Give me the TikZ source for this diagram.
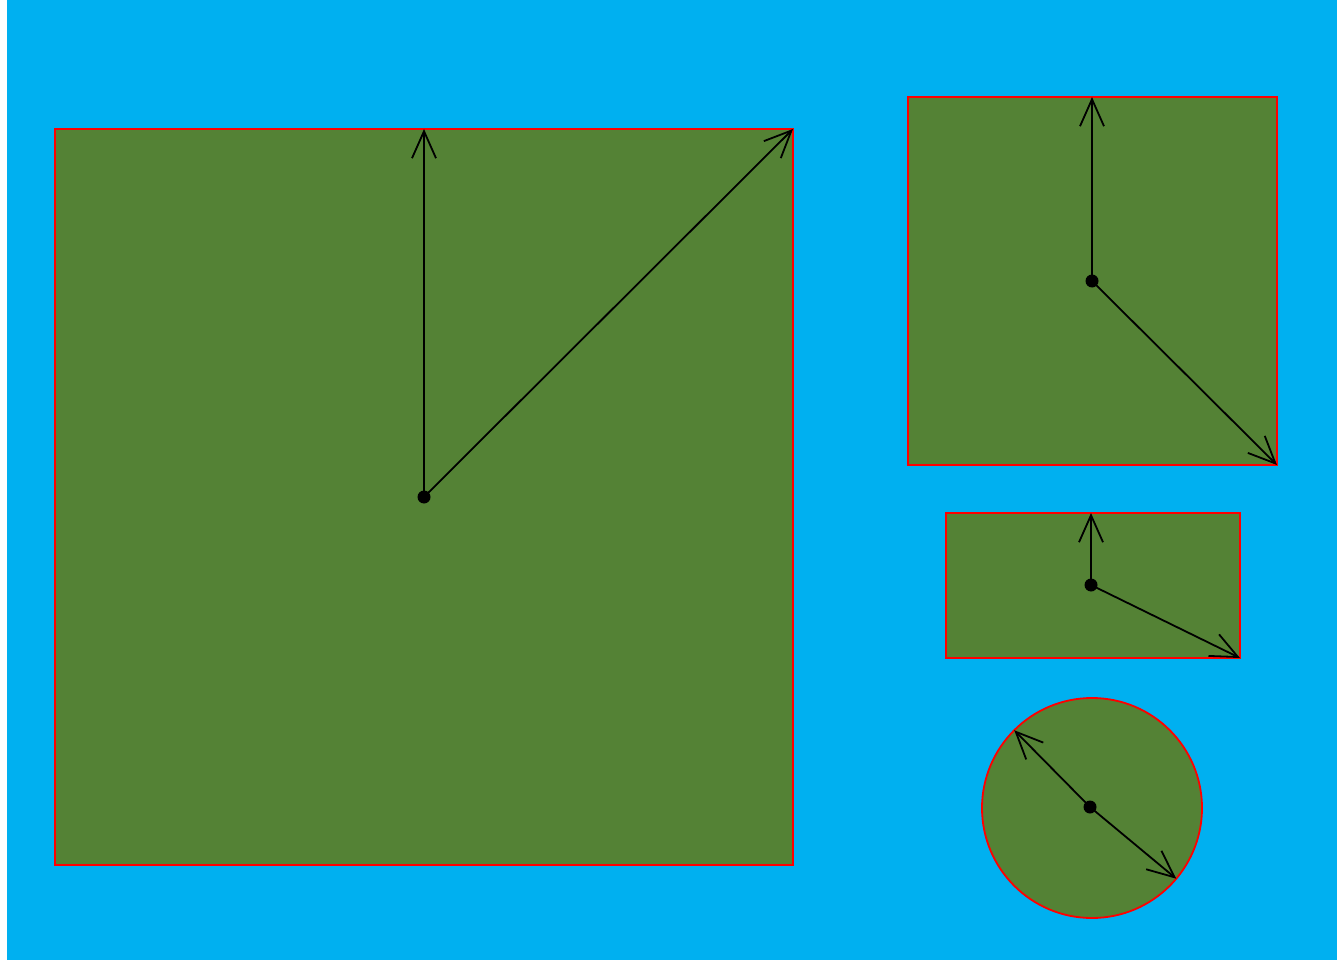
\documentclass[tikz,border=0pt]{standalone}
\usetikzlibrary{arrows.meta,calc}
\definecolor{bg}{HTML}{00B0F0}
\definecolor{fld}{HTML}{548235}
\definecolor{edge}{HTML}{FF0000}
\begin{document}
\begin{tikzpicture}[x=1pt,y=-1pt,
  box/.style={draw=edge,fill=fld,line width=1.8pt,inner sep=0pt,outer sep=0pt,rectangle},
  ring/.style={draw=edge,fill=fld,line width=1.8pt,inner sep=0pt,outer sep=0pt,circle,minimum size=220pt},
  arr/.style={line width=1.8pt,-{Straight Barb[length=27pt,width=24pt,line width=1.8pt]}},
  pin/.style={circle,fill=black,inner sep=0pt,minimum size=13pt}]
\useasboundingbox (0,0) rectangle (1344,960);
\fill[bg] (7,0) rectangle (1337,960);
% large square
\node[box,minimum width=738pt,minimum height=736pt] (A) at (424,497) {};
\coordinate (a) at (424,497);
\draw[arr] (a) -- (A.north);
\draw[arr] (a) -- (A.north east);
\node[pin] (pa) at (a) {};
% upper right square
\node[box,minimum width=369pt,minimum height=368pt] (B) at (1092.5,281) {};
\coordinate (b) at (1092,281);
\draw[arr] (b) -- (b |- B.north);
\draw[arr] (b) -- (B.south east);
\node[pin] (pb) at (b) {};
% rectangle
\node[box,minimum width=294pt,minimum height=145pt] (C) at (1093,585.5) {};
\coordinate (c) at (1091,585);
\draw[arr] (c) -- (c |- C.north);
\draw[arr] (c) -- (C.south east);
\node[pin] (pc) at (c) {};
% circle
\node[ring] (D) at (1092,808) {};
\coordinate (d) at (1090,807);
\draw[arr] (d) -- (D.135);
\draw[arr] (d) -- (D.-40);
\node[pin] (pd) at (d) {};
\end{tikzpicture}
\end{document}
